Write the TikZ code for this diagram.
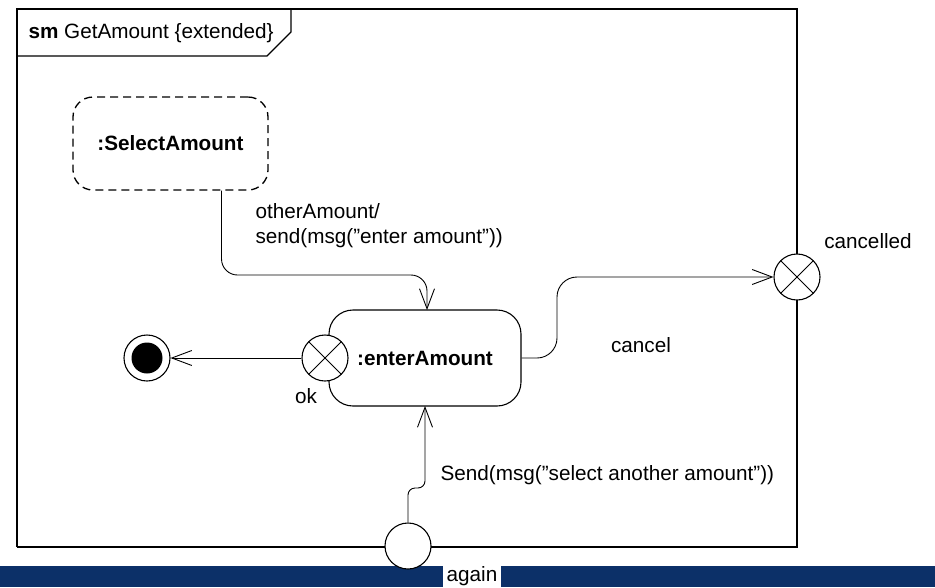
\documentclass[tikz,border=0pt]{standalone}
\usepackage{fontspec}
\setmainfont{Liberation Sans}
\usetikzlibrary{arrows.meta}
\definecolor{bandblue}{RGB}{12,48,104}
\begin{document}
\begin{tikzpicture}[x=1pt,y=-1pt,
  font=\fontsize{20.7}{25}\selectfont,
  line width=1.1pt,
  statebox/.style={draw, fill=white, rounded corners=24pt, minimum width=192pt,
    minimum height=96pt, inner sep=0pt, font=\fontsize{20.7}{25}\selectfont\bfseries},
  exitpt/.style={circle, draw, fill=white, minimum size=46pt, inner sep=0pt,
    path picture={\draw[line width=0.9pt]
      (path picture bounding box.north west) -- (path picture bounding box.south east)
      (path picture bounding box.north east) -- (path picture bounding box.south west);}},
  entrypt/.style={circle, draw, fill=white, minimum size=46pt, inner sep=0pt},
  trans/.style={line width=0.9pt, -{Straight Barb[length=20pt,width=15pt]}},
  lbl/.style={inner sep=0pt}
]
\useasboundingbox (0,0) rectangle (935,587);

% bottom band with the entry point's name
\fill[bandblue] (0,566) rectangle (935,587);
\node[fill=white, minimum height=21pt, inner xsep=3.5pt, inner ysep=0pt] (againlbl) at (472,576.5) {again};

% frame and its name tab
\draw (17,547) -- (17,9) -- (797,9) -- (797,547);
\draw[line width=2pt] (16.5,547) -- (797.5,547);
\draw (291,9) -- (291,32) -- (267,56) -- (17,56);
\node[anchor=west, lbl] (title) at (28,33) {\textbf{sm} GetAmount \{extended\}};

% states
\node[statebox, dashed, line width=1.3pt, dash pattern=on 8pt off 5pt, rounded corners=20pt,
  minimum width=195pt, minimum height=93pt] (sel) at (170.5,143.5) {:SelectAmount};
\node[statebox] (enter) at (425,358) {:enterAmount};

% pseudostates
\node[exitpt] (ok) at (325,358) {};
\node[exitpt] (cancelled) at (797,277) {};
\node[entrypt] (again) at (408,546) {};
\node[circle, draw, minimum size=46pt, inner sep=0pt] (final) at (147,358) {};
\fill (final) circle (15.5pt);

% transitions
\draw[trans, rounded corners=16pt] ([xshift=51pt]sel.south) |- (427,275) -- (427,310);
\draw[trans] (ok.west) -- (final.east);
\draw[trans, rounded corners=20pt] (enter.east) -| (557,277) -- (cancelled.west);
\draw[trans, rounded corners=7pt] (again.north) |- (425,488) -- (425,406);

% labels
\node[lbl, anchor=west, align=left] (otherlbl) at (255,226) {otherAmount/\\send(msg(”enter amount”))};
\node[lbl] (cancellbl) at (641,345) {cancel};
\node[lbl] (cancelledlbl) at (868,241) {cancelled};
\node[lbl] (oklbl) at (306,396) {ok};
\node[lbl, anchor=west] (sendlbl) at (440,475) {Send(msg(”select another amount”))};
\end{tikzpicture}
\end{document}
